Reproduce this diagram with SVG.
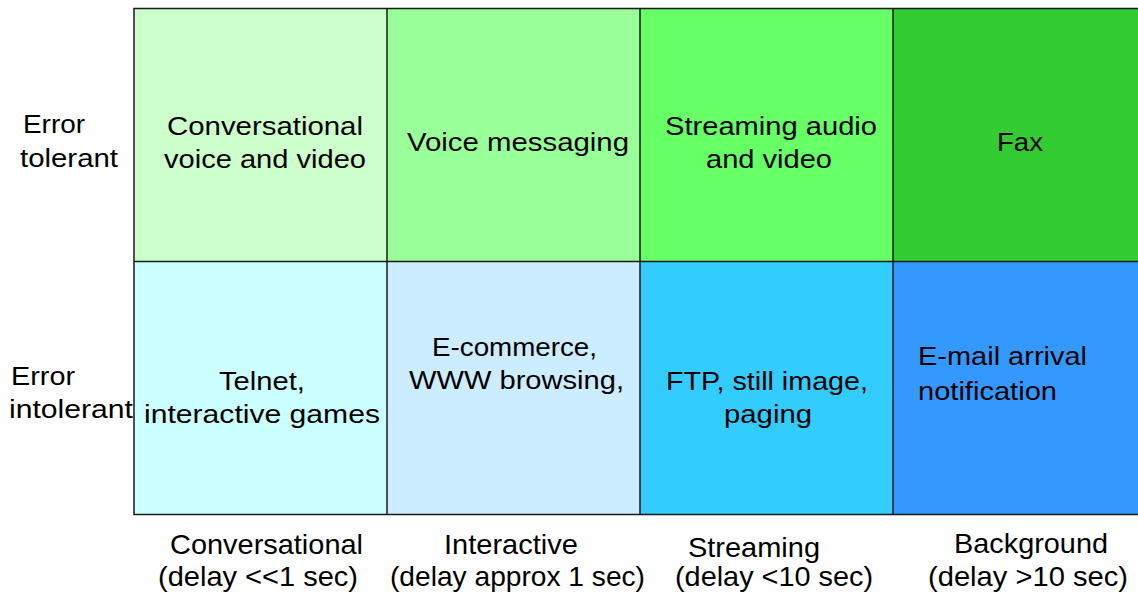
<svg xmlns="http://www.w3.org/2000/svg" width="1138" height="599" viewBox="0 0 1138 599">
<style>
text{font-family:"Liberation Sans",Arial,sans-serif;fill:#000;}
.c{font-size:25px;}
.b{font-size:28px;}
.grid{stroke:#1a1a1a;stroke-width:1.5;fill:none;}
</style>
<rect width="1138" height="599" fill="#fff"/>
<g id="cells">
<g id="r1c1"><rect x="134" y="8" width="253" height="253" fill="#CCFFCC"/>
<text class="c" x="167" y="135" textLength="196" lengthAdjust="spacingAndGlyphs">Conversational</text>
<text class="c" x="164" y="168" textLength="202" lengthAdjust="spacingAndGlyphs">voice and video</text></g>
<g id="r1c2"><rect x="387" y="8" width="253" height="253" fill="#99FF99"/>
<text class="c" x="407" y="151" textLength="222" lengthAdjust="spacingAndGlyphs">Voice messaging</text></g>
<g id="r1c3"><rect x="640" y="8" width="253" height="253" fill="#66FF66"/>
<text class="c" x="665" y="135" textLength="212" lengthAdjust="spacingAndGlyphs">Streaming audio</text>
<text class="c" x="706" y="168" textLength="126" lengthAdjust="spacingAndGlyphs">and video</text></g>
<g id="r1c4"><rect x="893" y="8" width="246" height="253" fill="#33CC33"/>
<text class="c" x="997" y="151" textLength="46" lengthAdjust="spacingAndGlyphs">Fax</text></g>
<g id="r2c1"><rect x="134" y="261" width="253" height="253" fill="#CCFFFF"/>
<text class="c" x="219" y="390" textLength="86" lengthAdjust="spacingAndGlyphs">Telnet,</text>
<text class="c" x="144" y="423" textLength="236" lengthAdjust="spacingAndGlyphs">interactive games</text></g>
<g id="r2c2"><rect x="387" y="261" width="253" height="253" fill="#CCECFF"/>
<text class="c" x="432" y="356" textLength="165" lengthAdjust="spacingAndGlyphs">E-commerce,</text>
<text class="c" x="409" y="389" textLength="215" lengthAdjust="spacingAndGlyphs">WWW browsing,</text></g>
<g id="r2c3"><rect x="640" y="261" width="253" height="253" fill="#33CCFF"/>
<text class="c" x="666" y="390" textLength="202" lengthAdjust="spacingAndGlyphs">FTP, still image,</text>
<text class="c" x="724" y="423" textLength="88" lengthAdjust="spacingAndGlyphs">paging</text></g>
<g id="r2c4"><rect x="893" y="261" width="246" height="253" fill="#3399FF"/>
<text class="c" x="918" y="365" textLength="169" lengthAdjust="spacingAndGlyphs">E-mail arrival</text>
<text class="c" x="918" y="400" textLength="139" lengthAdjust="spacingAndGlyphs">notification</text></g>
</g>
<g id="gridlines">
<path class="grid" d="M1139,8.5 H134 V514.5 H1139 M134,261.5 H1139 M387,8 V515 M640,8 V515 M893,8 V515"/>
</g>
<g id="row-labels">
<text class="c" x="23" y="133" textLength="62" lengthAdjust="spacingAndGlyphs">Error</text>
<text class="c" x="20" y="167" textLength="98" lengthAdjust="spacingAndGlyphs">tolerant</text>
<text class="c" x="11" y="385" textLength="64" lengthAdjust="spacingAndGlyphs">Error</text>
<text class="c" x="9" y="418" textLength="124" lengthAdjust="spacingAndGlyphs">intolerant</text>
</g>
<g id="col-labels">
<text class="b" x="170" y="554" textLength="193" lengthAdjust="spacingAndGlyphs">Conversational</text>
<text class="b" x="158" y="586" textLength="200" lengthAdjust="spacingAndGlyphs">(delay &lt;&lt;1 sec)</text>
<text class="b" x="444" y="554" textLength="134" lengthAdjust="spacingAndGlyphs">Interactive</text>
<text class="b" x="390" y="586" textLength="255" lengthAdjust="spacingAndGlyphs">(delay approx 1 sec)</text>
<text class="b" x="688" y="557" textLength="132" lengthAdjust="spacingAndGlyphs">Streaming</text>
<text class="b" x="675" y="586" textLength="198" lengthAdjust="spacingAndGlyphs">(delay &lt;10 sec)</text>
<text class="b" x="954" y="553" textLength="154" lengthAdjust="spacingAndGlyphs">Background</text>
<text class="b" x="928" y="586" textLength="200" lengthAdjust="spacingAndGlyphs">(delay &gt;10 sec)</text>
</g>
</svg>
